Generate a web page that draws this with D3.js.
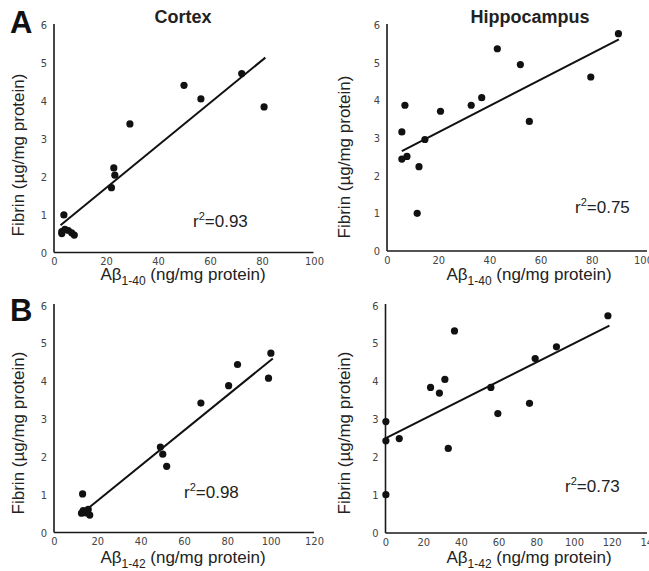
<!DOCTYPE html>
<html>
<head>
<meta charset="utf-8">
<script src="https://cdn.jsdelivr.net/npm/d3@7"></script>
<style>
  html, body { margin: 0; padding: 0; background: #fff; }
  svg { display: block; }
  .tick text { font-family: "Liberation Sans Narrow", "DejaVu Sans Condensed", "Liberation Sans", sans-serif; font-size: 11px; fill: #444; }
  .lbl { font-family: "Liberation Sans", Arial, sans-serif; font-size: 17px; fill: #222; }
  .title { font-family: "Liberation Sans", Arial, sans-serif; font-size: 18px; font-weight: bold; fill: #222; }
  .panel { font-family: "Liberation Sans", Arial, sans-serif; font-size: 31px; font-weight: bold; fill: #111; }
</style>
</head>
<body>
<svg id="chart" width="649" height="571"></svg>
<script>
// ---------- data ----------
const yTicks = [0, 1, 2, 3, 4, 5, 6];

// A: Abeta 1-40, Cortex
const cortex40X = [3.8, 3.0, 3.0, 4.2, 5.5, 6.8, 7.8, 22.1, 23.0, 23.4, 29.2, 50.0, 56.5, 72.2, 80.8];
const cortex40Y = [0.99, 0.5, 0.55, 0.61, 0.58, 0.52, 0.46, 1.71, 2.23, 2.04, 3.39, 4.41, 4.05, 4.72, 3.84];
const cortex40FitX = [2.5, 81.3];
const cortex40FitY = [0.72, 5.14];
const cortex40Ticks = [0, 20, 40, 60, 80, 100];

// A: Abeta 1-40, Hippocampus
const hippo40X = [5.8, 5.8, 7.0, 7.8, 11.8, 12.5, 14.8, 20.9, 32.9, 37.0, 43.1, 52.1, 55.6, 79.6, 90.4];
const hippo40Y = [3.16, 2.44, 3.87, 2.51, 1.0, 2.24, 2.96, 3.71, 3.87, 4.07, 5.37, 4.95, 3.44, 4.62, 5.77];
const hippo40FitX = [5.8, 90.6];
const hippo40FitY = [2.65, 5.62];
const hippo40Ticks = [0, 20, 40, 60, 80, 100];

// B: Abeta 1-42, Cortex
const cortex42X = [13.2, 12.7, 13.5, 14.7, 15.8, 16.5, 49.1, 50.2, 52.0, 67.8, 80.6, 84.7, 99.0, 100.1];
const cortex42Y = [1.02, 0.51, 0.58, 0.52, 0.61, 0.46, 2.26, 2.07, 1.75, 3.42, 3.88, 4.44, 4.08, 4.74];
const cortex42FitX = [15.5, 101.0];
const cortex42FitY = [0.63, 4.6];
const cortex42Ticks = [0, 20, 40, 60, 80, 100, 120];

// B: Abeta 1-42, Hippocampus
const hippo42X = [0.2, 0.2, 0.2, 7.3, 23.9, 28.6, 31.5, 33.3, 36.6, 55.9, 59.6, 76.4, 79.4, 90.7, 118.0];
const hippo42Y = [2.94, 2.43, 1.01, 2.49, 3.84, 3.69, 4.05, 2.23, 5.33, 3.84, 3.15, 3.42, 4.6, 4.91, 5.73];
const hippo42FitX = [0.2, 118.8];
const hippo42FitY = [2.5, 5.47];
const hippo42Ticks = [0, 20, 40, 60, 80, 100, 120, 140];

const rLabels = ["0.93", "0.75", "0.98", "0.73"];
const titles = ["Cortex", "Hippocampus"];
const panelLetters = ["A", "B"];

// ---------- layout ----------
const panels = [
  { xs: cortex40X, ys: cortex40Y, fx: cortex40FitX, fy: cortex40FitY, ticks: cortex40Ticks, sub: "1-40", r: rLabels[0],
    xr: [54, 314], yr: [252.5, 25], axEnd: 313.5, axTop: 24, ylx: 24, yly: 155, xlx: 183, xly: 280, rx: 193, ry: 227 },
  { xs: hippo40X, ys: hippo40Y, fx: hippo40FitX, fy: hippo40FitY, ticks: hippo40Ticks, sub: "1-40", r: rLabels[1],
    xr: [387, 643], yr: [251, 25], axEnd: 647, axTop: 24, ylx: 350, yly: 157, xlx: 529, xly: 280, rx: 575, ry: 213 },
  { xs: cortex42X, ys: cortex42Y, fx: cortex42FitX, fy: cortex42FitY, ticks: cortex42Ticks, sub: "1-42", r: rLabels[2],
    xr: [54, 314], yr: [532.5, 305.5], axEnd: 314, axTop: 304, ylx: 24, yly: 433, xlx: 183, xly: 563, rx: 184, ry: 498 },
  { xs: hippo42X, ys: hippo42Y, fx: hippo42FitX, fy: hippo42FitY, ticks: hippo42Ticks, sub: "1-42", r: rLabels[3],
    xr: [385.5, 649.4], yr: [533, 305.5], axEnd: 647, axTop: 304, ylx: 350, yly: 433, xlx: 529, xly: 563, rx: 565, ry: 492 }
];

const svg = d3.select("#chart");

panels.forEach((p, i) => {
  const xMax = p.ticks[p.ticks.length - 1];
  const x = d3.scaleLinear().domain([0, xMax]).range(p.xr);
  const y = d3.scaleLinear().domain([0, 6]).range(p.yr);
  const g = svg.append("g");

  // y axis ticks
  const ya = g.append("g").attr("transform", `translate(${p.xr[0]},0)`)
    .call(d3.axisLeft(y).tickValues(yTicks).tickSize(0).tickPadding(7).tickFormat(d3.format("d")));
  ya.select(".domain").remove();

  // x axis ticks
  const xa = g.append("g").attr("transform", `translate(0,${p.yr[0]})`)
    .call(d3.axisBottom(x).tickValues(p.ticks).tickSize(0).tickPadding(5).tickFormat(d3.format("d")));
  xa.select(".domain").remove();

  // axis lines
  g.append("line").attr("x1", p.xr[0]).attr("x2", p.xr[0]).attr("y1", p.axTop).attr("y2", p.yr[0])
    .attr("stroke", "#1a1a1a").attr("stroke-width", 1.6);
  g.append("line").attr("x1", p.xr[0]).attr("x2", p.axEnd).attr("y1", p.yr[0]).attr("y2", p.yr[0])
    .attr("stroke", "#1a1a1a").attr("stroke-width", 1.6);

  // fit line
  const fitPts = p.fx.map((v, k) => [v, p.fy[k]]);
  g.append("path").datum(fitPts)
    .attr("d", d3.line().x(d => x(d[0])).y(d => y(d[1])))
    .attr("fill", "none").attr("stroke", "#111").attr("stroke-width", 2);

  // points
  const pts = p.xs.map((v, k) => [v, p.ys[k]]);
  g.selectAll("circle.pt").data(pts).enter().append("circle")
    .attr("class", "pt")
    .attr("cx", d => x(d[0])).attr("cy", d => y(d[1])).attr("r", 3.6)
    .attr("fill", "#111");

  // y label
  g.append("text").attr("class", "lbl")
    .attr("transform", `translate(${p.ylx},${p.yly}) rotate(-90)`)
    .attr("text-anchor", "middle")
    .text("Fibrin (µg/mg protein)");

  // x label
  const xl = g.append("text").attr("class", "lbl")
    .attr("x", p.xlx).attr("y", p.xly).attr("text-anchor", "middle");
  xl.append("tspan").text("Aβ");
  xl.append("tspan").attr("dy", 5).attr("font-size", "12px").text(p.sub);
  xl.append("tspan").attr("dy", -5).text(" (ng/mg protein)");

  // r^2 label
  const rl = g.append("text").attr("class", "lbl").attr("x", p.rx).attr("y", p.ry);
  rl.append("tspan").text("r");
  rl.append("tspan").attr("dy", -7).attr("font-size", "11px").text("2");
  rl.append("tspan").attr("dy", 7).text("=" + p.r);
});

// titles
svg.append("text").attr("class", "title").attr("x", 183).attr("y", 23).attr("text-anchor", "middle").text(titles[0]);
svg.append("text").attr("class", "title").attr("x", 530).attr("y", 23).attr("text-anchor", "middle").text(titles[1]);

// panel letters
svg.append("text").attr("class", "panel").attr("x", 10).attr("y", 33).text(panelLetters[0]);
svg.append("text").attr("class", "panel").attr("x", 10).attr("y", 321).text(panelLetters[1]);
</script>
</body>
</html>
